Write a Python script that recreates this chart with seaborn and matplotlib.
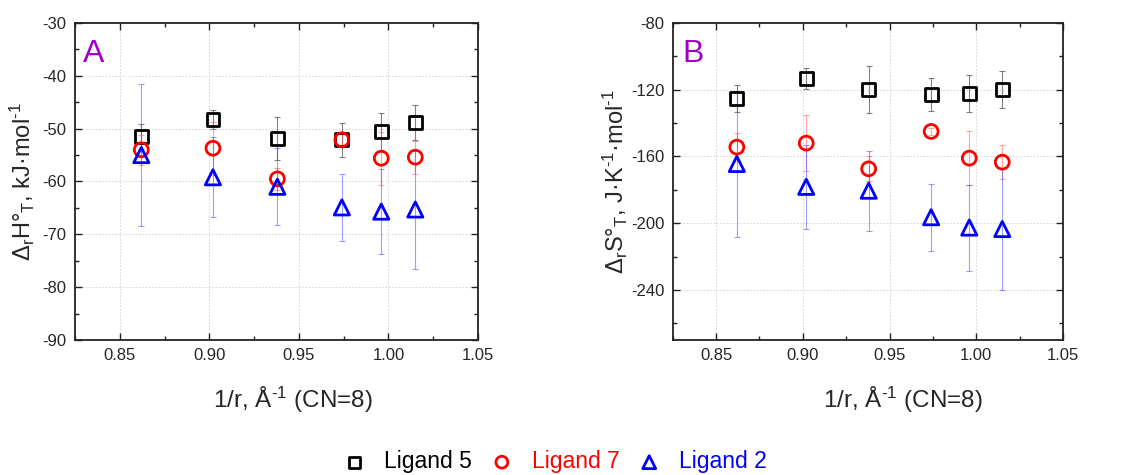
import numpy as np
import pandas as pd
import matplotlib
matplotlib.use("Agg")
import matplotlib.pyplot as plt
from matplotlib.ticker import MultipleLocator, FormatStrFormatter
import seaborn as sns

# ---- data ----
inv_r = [0.862, 0.902, 0.938, 0.974, 0.996, 1.015]
series = ["Ligand 5", "Ligand 7", "Ligand 2"]

dH_L5 = [-51.5, -48.2, -51.8, -52.1, -50.5, -48.9]
dH_L5_err = [2.4, 1.8, 4.1, 3.2, 3.5, 3.3]
dH_L7 = [-54.0, -53.7, -59.5, -52.1, -55.6, -55.4]
dH_L7_err = [2.8, 5.0, 2.1, 1.0, 5.0, 3.1]
dH_L2 = [-55.0, -59.2, -61.0, -64.9, -65.7, -65.3]
dH_L2_err = [13.5, 7.6, 7.3, 6.3, 8.0, 11.3]

dS_L5 = [-125.2, -113.2, -120.0, -123.0, -122.2, -120.0]
dS_L5_err = [8.0, 6.2, 14.0, 10.0, 11.0, 11.0]
dS_L7 = [-154.4, -152.0, -167.4, -145.0, -161.0, -163.4]
dS_L7_err = [8.4, 17.0, 7.4, 2.0, 16.0, 10.0]
dS_L2 = [-164.5, -178.2, -180.5, -196.4, -202.6, -203.5]
dS_L2_err = [44.0, 25.0, 24.0, 20.0, 25.8, 36.6]

x_ticks = [0.85, 0.90, 0.95, 1.00, 1.05]
yA_ticks = [-90, -80, -70, -60, -50, -40, -30]
yB_ticks = [-240, -200, -160, -120, -80]

# ---- styling ----
sns.set_theme(style="white")
plt.rcParams["font.family"] = ["Liberation Sans", "DejaVu Sans"]
plt.rcParams["axes.unicode_minus"] = False
plt.rcParams["mathtext.fontset"] = "custom"
plt.rcParams["mathtext.rm"] = "Liberation Sans"
plt.rcParams["mathtext.it"] = "Liberation Sans:italic"
plt.rcParams["mathtext.default"] = "regular"

colors = {"Ligand 5": "black", "Ligand 7": "#ff0000", "Ligand 2": "#0000ff"}
err_colors = {"Ligand 5": (0.3, 0.3, 0.3, 0.7), "Ligand 7": (1, 0.3, 0.3, 0.5),
              "Ligand 2": (0.3, 0.3, 1, 0.55)}
markers = {"Ligand 5": "s", "Ligand 7": "o", "Ligand 2": "^"}
sizes = {"Ligand 5": 85, "Ligand 7": 100, "Ligand 2": 120}

fig = plt.figure(figsize=(11.37, 4.75), dpi=100)
axA = fig.add_axes([0.066, 0.2842, 0.3544, 0.6674])
axB = fig.add_axes([0.5916, 0.2842, 0.3433, 0.6674])

panels = [
    (axA, {"Ligand 5": (dH_L5, dH_L5_err), "Ligand 7": (dH_L7, dH_L7_err),
           "Ligand 2": (dH_L2, dH_L2_err)}),
    (axB, {"Ligand 5": (dS_L5, dS_L5_err), "Ligand 7": (dS_L7, dS_L7_err),
           "Ligand 2": (dS_L2, dS_L2_err)}),
]

for ax, data in panels:
    for name in series:
        y, e = data[name]
        ax.errorbar(inv_r, y, yerr=e, fmt="none", ecolor=err_colors[name],
                    elinewidth=0.8, capsize=2.5, capthick=0.8, zorder=2)
    for name in series:
        y, e = data[name]
        df = pd.DataFrame({"x": inv_r, "y": y})
        sns.scatterplot(data=df, x="x", y="y", ax=ax, marker=markers[name],
                        s=sizes[name], facecolor="none", edgecolor=colors[name],
                        linewidth=2.0, label=name, zorder=3, legend=False)

for ax in (axA, axB):
    ax.set_xlim(0.825, 1.05)
    ax.xaxis.set_major_locator(MultipleLocator(0.05))
    ax.xaxis.set_minor_locator(MultipleLocator(0.025))
    ax.xaxis.set_major_formatter(FormatStrFormatter("%.2f"))
    ax.tick_params(which="both", direction="in", top=True, right=True,
                   bottom=True, left=True, color="#222222")
    ax.tick_params(which="major", length=5, width=1.0, labelsize=12, pad=6)
    ax.tick_params(which="minor", length=3, width=1.0)
    ax.grid(True, which="major", linestyle=(0, (2, 2)), color="#d0d0d0", linewidth=0.6)
    for sp in ax.spines.values():
        sp.set_color("#222222")
        sp.set_linewidth(1.3)
    ax.set_xlabel(r"1/r, Å$^{\text{-1}}$ (CN=8)", fontsize=17.5)

axA.set_ylim(-90, -30)
axA.set_yticks(yA_ticks)
axA.yaxis.set_minor_locator(MultipleLocator(5))
axA.yaxis.set_major_formatter(FormatStrFormatter("%d"))
axA.set_ylabel(r"Δ$_{r}$H°$_{T}$, kJ·mol$^{\text{-1}}$", fontsize=17)
axA.xaxis.set_label_coords(0.54, -0.14)
axA.yaxis.set_label_coords(-0.094, 0.5)

axB.set_ylim(-270, -80)
axB.set_yticks(yB_ticks)
axB.yaxis.set_minor_locator(MultipleLocator(20))
axB.yaxis.set_major_formatter(FormatStrFormatter("%d"))
axB.set_ylabel(r"Δ$_{r}$S°$_{T}$, J·K$^{\text{-1}}$·mol$^{\text{-1}}$", fontsize=17)
axB.xaxis.set_label_coords(0.59, -0.14)
axB.yaxis.set_label_coords(-0.109, 0.5)

axA.text(0.02, 0.95, "A", transform=axA.transAxes, fontsize=23, color="#a000c8",
         ha="left", va="top")
axB.text(0.025, 0.95, "B", transform=axB.transAxes, fontsize=23, color="#a000c8",
         ha="left", va="top")

handles, labels = axA.get_legend_handles_labels()
leg = fig.legend(handles, labels, loc="center", bbox_to_anchor=(0.488, 0.028), ncol=3,
                 frameon=False, fontsize=16.5, handlelength=1.0, handletextpad=0.8,
                 columnspacing=0.8, markerscale=0.85)
for t in leg.get_texts():
    t.set_color(colors[t.get_text()])

fig.savefig("out.png", dpi=100)
